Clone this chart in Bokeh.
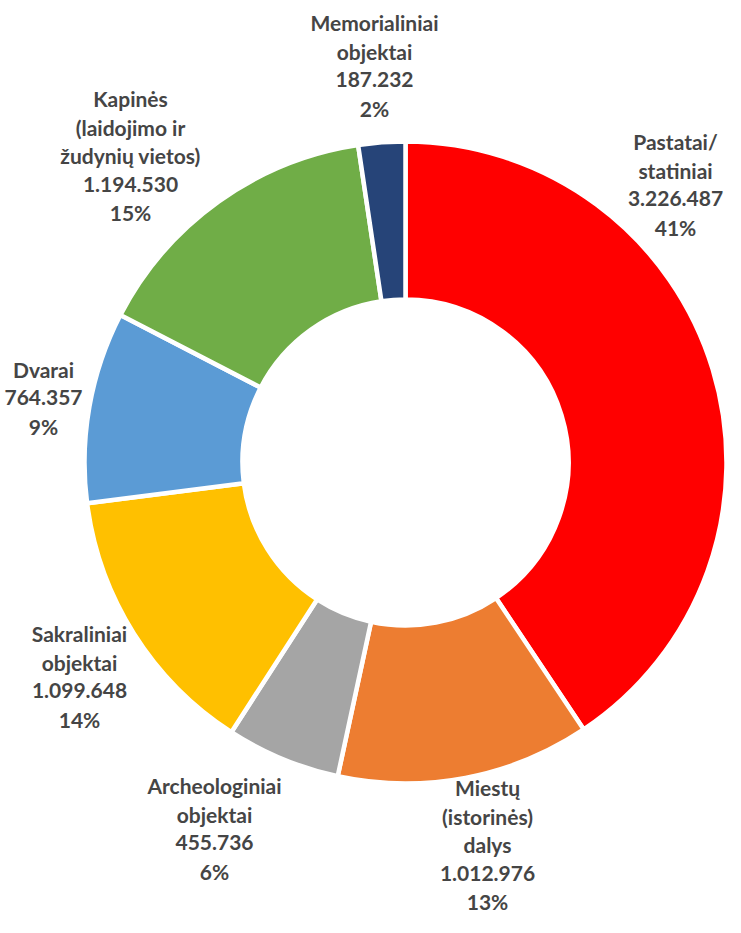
import math
from bokeh.plotting import figure
from bokeh.models import Range1d, ColumnDataSource
from bokeh.core.properties import value
from bokeh.embed import file_html
from bokeh.resources import INLINE

# ---- data ----
categories = [
    "Pastatai/\nstatiniai",
    "Miestų\n(istorinės)\ndalys",
    "Archeologiniai\nobjektai",
    "Sakraliniai\nobjektai",
    "Dvarai",
    "Kapinės\n(laidojimo ir\nžudynių vietos)",
    "Memorialiniai\nobjektai",
]
values = [3226487, 1012976, 455736, 1099648, 764357, 1194530, 187232]
percent_labels = ["41%", "13%", "6%", "14%", "9%", "15%", "2%"]
colors = ["#FF0000", "#ED7D31", "#A5A5A5", "#FFC000", "#5B9BD5", "#70AD47", "#264478"]

# ---- layout ----
W, H = 725, 917
CX, CY = 405, 455
R_OUT, R_IN = 321, 163
LINE_H = 28.5
FONT = "Lato"
FONT_SIZE = "21px"
TEXT_COLOR = "#454545"
label_pos = [(675, 733), (487, 73), (214, 89), (79, 241), (43, 520), (130, 762), (374, 852)]

total = float(sum(values))
starts, ends = [], []
cum = 0.0
for v in values:
    starts.append(math.pi / 2 - 2 * math.pi * cum / total)
    cum += v
    ends.append(math.pi / 2 - 2 * math.pi * cum / total)

src = ColumnDataSource(dict(x=[CX] * len(values), y=[CY] * len(values),
                            start=starts, end=ends, color=colors))

p = figure(width=W, height=H, x_range=Range1d(0, W), y_range=Range1d(0, H),
           output_backend="svg", toolbar_location=None,
           x_axis_type=None, y_axis_type=None, min_border=0)
p.outline_line_color = None
p.grid.visible = False
p.background_fill_color = "white"

p.annular_wedge(x="x", y="y", inner_radius=R_IN, outer_radius=R_OUT,
                start_angle="start", end_angle="end", direction="clock",
                fill_color="color", line_color="white", line_width=4.5, source=src)

tx, ty, tt = [], [], []
for cat, v, pct, (lx, ly) in zip(categories, values, percent_labels, label_pos):
    lines = cat.split("\n") + [f"{v:,}".replace(",", "."), pct]
    n = len(lines)
    for i, ln in enumerate(lines):
        tx.append(lx)
        ty.append(ly + (n - 1) / 2 * LINE_H - i * LINE_H)
        tt.append(ln)

p.text(x=tx, y=ty, text=tt, text_align="center", text_baseline="middle",
       text_font=value(FONT), text_font_size=FONT_SIZE, text_font_style="bold",
       text_color=TEXT_COLOR)

open("out.html", "w").write(file_html(p, INLINE))
